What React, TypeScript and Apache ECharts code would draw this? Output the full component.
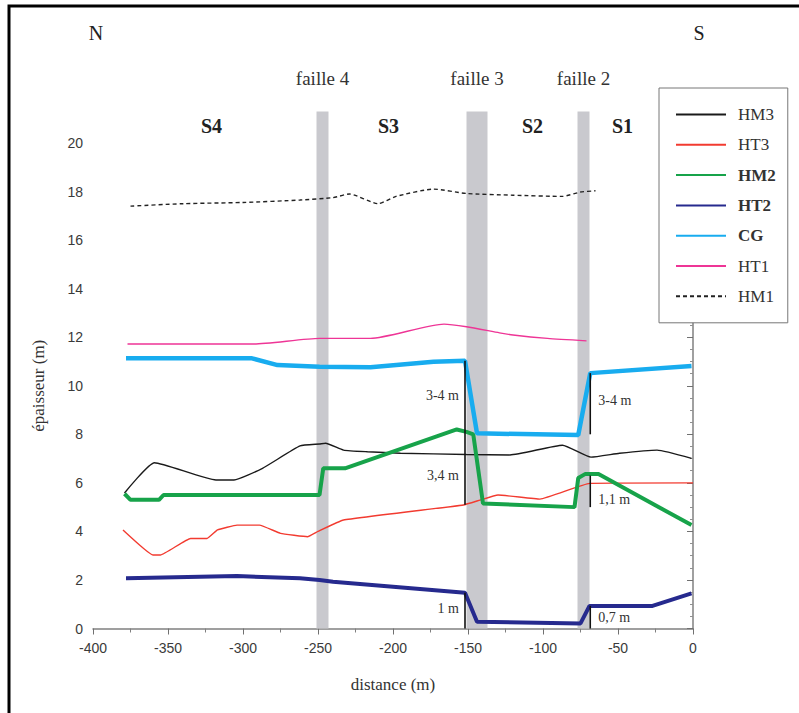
import React, { useEffect, useRef } from "react";
import * as echarts from "echarts";

// ---- data (distance in m, thickness in m) ----
const hm3X = [-379, -359, -318, -306, -287, -262, -249, -245, -233, -217, -195, -151, -122, -87, -68, -49, -24, -1];
const hm3Y = [5.58, 6.83, 6.12, 6.12, 6.6, 7.52, 7.6, 7.63, 7.35, 7.28, 7.22, 7.17, 7.15, 7.55, 7.06, 7.22, 7.35, 7.01];

const ht3X = [-380, -360, -355, -335, -324, -317, -304, -289, -275, -257, -250, -233, -153, -142, -130, -102, -69, 0];
const ht3Y = [4.06, 3.03, 3.03, 3.71, 3.71, 4.06, 4.26, 4.26, 3.92, 3.78, 4.0, 4.47, 5.09, 5.29, 5.5, 5.33, 5.98, 6.0];

const hm2X = [-379, -375, -356, -353, -249, -246.5, -232, -157.5, -151, -146.5, -140, -79, -76.5, -72, -63, -1];
const hm2Y = [5.55, 5.3, 5.3, 5.5, 5.5, 6.6, 6.6, 8.2, 8.1, 8.0, 5.15, 5.0, 6.2, 6.36, 6.36, 4.26];

const ht2X = [-378, -304, -262, -249, -240, -152, -144, -75, -69, -27, -1];
const ht2Y = [2.07, 2.16, 2.07, 2.0, 1.93, 1.47, 0.28, 0.21, 0.93, 0.93, 1.45];

const cgX = [-378, -294, -277, -249, -215, -173, -152, -144, -76.5, -68.5, -1];
const cgY = [11.13, 11.13, 10.85, 10.78, 10.76, 10.99, 11.03, 8.04, 7.97, 10.52, 10.81];

const ht1X = [-377, -293, -249, -215, -166, -151, -129, -120, -97, -71];
const ht1Y = [11.72, 11.72, 11.95, 11.95, 12.54, 12.43, 12.18, 12.09, 11.95, 11.85];

const hm1X = [-375, -340, -300, -262, -240, -229, -210, -198, -173, -151, -120, -87, -75, -65];
const hm1Y = [17.4, 17.5, 17.55, 17.65, 17.75, 17.9, 17.5, 17.8, 18.1, 17.92, 17.85, 17.8, 17.98, 18.03];

// fault zones [from, to]
const faultFrom = [-251, -151, -77];
const faultTo = [-243, -137, -69];
const faultTop = 21.3;
const faultNames = ["faille 4", "faille 3", "faille 2"];

// sector labels
const sectorNames = ["S4", "S3", "S2", "S1"];
const sectorX = [-321, -203, -107, -47];

// offset annotations: vertical bars [x, yTop, yBottom]
const barX = [-152, -152, -68.5, -68.5, -68.5];
const barTop = [11.03, 1.47, 10.52, 6.3, 0.93];
const barBottom = [5.1, 0, 8.0, 5.0, 0];

// annotation labels
const annoText = ["3-4 m", "3,4 m", "1 m", "3-4 m", "1,1 m", "0,7 m"];
const annoX = [-152, -152, -152, -68.5, -68.5, -68.5];
const annoY = [9.6, 6.32, 0.84, 9.4, 5.3, 0.47];
const annoSide = ["left", "left", "left", "right", "right", "right"];

const SERIF = "'Liberation Serif', 'Times New Roman', serif";
const SANS = "'Liberation Sans', Arial, sans-serif";

const zip = (xs: number[], ys: number[]) => xs.map((x, i) => [x, ys[i]]);

type Def = { name: string; xs: number[]; ys: number[]; color: string; width: number; dashed?: boolean; bold?: boolean; smooth?: number };
const defs: Def[] = [
  { name: "HM3", xs: hm3X, ys: hm3Y, color: "#1a1a1a", width: 1.4, smooth: 0.15 },
  { name: "HT3", xs: ht3X, ys: ht3Y, color: "#f23b30", width: 1.4, smooth: 0.1 },
  { name: "HM2", xs: hm2X, ys: hm2Y, color: "#17a34a", width: 4, bold: true },
  { name: "HT2", xs: ht2X, ys: ht2Y, color: "#262a8e", width: 4, bold: true },
  { name: "CG", xs: cgX, ys: cgY, color: "#18acef", width: 4.5, bold: true },
  { name: "HT1", xs: ht1X, ys: ht1Y, color: "#ee3596", width: 1.4, smooth: 0.2 },
  { name: "HM1", xs: hm1X, ys: hm1Y, color: "#222", width: 1.4, dashed: true, smooth: 0.2 },
];

export default function App() {
  const ref = useRef<HTMLDivElement>(null);
  useEffect(() => {
    document.body.style.margin = "0";
    const chart = echarts.init(ref.current!, null, { renderer: "svg" });

    const lineSeries = defs.map((d) => ({
      name: d.name,
      type: "line",
      data: zip(d.xs, d.ys),
      symbol: "none",
      smooth: d.smooth || false,
      z: 3,
      lineStyle: { color: d.color, width: d.width, type: d.dashed ? [4, 3] : "solid" },
      itemStyle: { color: d.color },
    }));

    const legendText = { fontFamily: SERIF, fontSize: 17, color: "#333", padding: [0, 0, 0, 7] };

    const option: any = {
      animation: false,
      backgroundColor: "#fff",
      grid: { left: 93, top: 143, width: 600, height: 485.5 },
      xAxis: {
        type: "value",
        min: -400,
        max: 0,
        interval: 50,
        axisLine: { lineStyle: { color: "#808080", width: 1.5 } },
        axisTick: { length: 6, lineStyle: { color: "#707070" } },
        minorTick: { show: true, splitNumber: 2, length: 4, lineStyle: { color: "#808080" } },
        axisLabel: { fontFamily: SANS, fontSize: 14, color: "#3a3a3a", margin: 12 },
        splitLine: { show: false },
        name: "distance (m)",
        nameLocation: "middle",
        nameGap: 47,
        nameTextStyle: { fontFamily: SERIF, fontSize: 17, color: "#333" },
      },
      yAxis: {
        type: "value",
        min: 0,
        max: 20,
        interval: 2,
        axisLine: { show: true, lineStyle: { color: "#808080", width: 1.5 } },
        axisTick: { show: true, length: 6, lineStyle: { color: "#707070" } },
        minorTick: { show: true, splitNumber: 4, length: 3, lineStyle: { color: "#909090" } },
        axisLabel: { fontFamily: SANS, fontSize: 14, color: "#3a3a3a", margin: 10 },
        splitLine: { show: false },
        name: "épaisseur (m)",
        nameLocation: "middle",
        nameGap: 46,
        nameTextStyle: { fontFamily: SERIF, fontSize: 17, color: "#333" },
      },
      legend: {
        orient: "vertical",
        left: 659,
        top: 88,
        itemWidth: 50,
        itemHeight: 14,
        itemGap: 13.3,
        padding: [18, 12, 18, 16],
        borderColor: "#777",
        borderWidth: 1,
        backgroundColor: "#fff",
        itemStyle: { opacity: 0 },
        textStyle: legendText,
        data: defs.map((d) => ({
          name: d.name,
          textStyle: { ...legendText, fontWeight: d.bold ? "bold" : "normal" },
        })),
      },
      series: [
        {
          type: "custom",
          name: "faults",
          clip: false,
          z: 1,
          silent: true,
          data: faultFrom.map((f, i) => [f, faultTo[i], 0]),
          encode: { x: [0, 1], y: 2 },
          renderItem: (params: any, api: any) => {
            const p0 = api.coord([api.value(0), faultTop]);
            const p1 = api.coord([api.value(1), 0]);
            return {
              type: "rect",
              shape: { x: p0[0], y: p0[1], width: p1[0] - p0[0], height: p1[1] - p0[1] },
              style: { fill: "#c9c9ce" },
            };
          },
        },
        {
          type: "custom",
          name: "faultLabels",
          clip: false,
          z: 4,
          silent: true,
          data: faultFrom.map((f, i) => [(f + faultTo[i]) / 2, 0]),
          encode: { x: 0, y: 1 },
          renderItem: (params: any, api: any) => {
            const p = api.coord([api.value(0), faultTop]);
            return {
              type: "text",
              x: p[0],
              y: p[1] - 33,
              style: { text: faultNames[params.dataIndex], font: `19px ${SERIF}`, fill: "#333", align: "center", verticalAlign: "middle" },
            };
          },
        },
        {
          type: "custom",
          name: "sectors",
          clip: false,
          z: 4,
          silent: true,
          data: sectorX.map((x) => [x, 0]),
          encode: { x: 0, y: 1 },
          renderItem: (params: any, api: any) => {
            const p = api.coord([api.value(0), 20]);
            return {
              type: "text",
              x: p[0],
              y: p[1] - 17,
              style: { text: sectorNames[params.dataIndex], font: `bold 20px ${SERIF}`, fill: "#222", align: "center", verticalAlign: "middle" },
            };
          },
        },
        ...lineSeries,
        {
          type: "custom",
          name: "bars",
          clip: false,
          z: 5,
          silent: true,
          data: barX.map((x, i) => [x, barTop[i], barBottom[i]]),
          encode: { x: 0, y: [1, 2] },
          renderItem: (params: any, api: any) => {
            const a = api.coord([api.value(0), api.value(1)]);
            const b = api.coord([api.value(0), api.value(2)]);
            return {
              type: "line",
              shape: { x1: a[0], y1: a[1], x2: b[0], y2: b[1] },
              style: { stroke: "#111", lineWidth: 1.6 },
            };
          },
        },
        {
          type: "custom",
          name: "annotations",
          clip: false,
          z: 5,
          silent: true,
          data: annoX.map((x, i) => [x, annoY[i]]),
          encode: { x: 0, y: 1 },
          renderItem: (params: any, api: any) => {
            const p = api.coord([api.value(0), api.value(1)]);
            const left = annoSide[params.dataIndex] === "left";
            return {
              type: "text",
              x: p[0] + (left ? -6 : 8),
              y: p[1],
              style: { text: annoText[params.dataIndex], font: `14px ${SERIF}`, fill: "#333", align: left ? "right" : "left", verticalAlign: "middle" },
            };
          },
        },
      ],
      graphic: [
        { type: "rect", shape: { x: 9, y: 6, width: 820, height: 730 }, style: { fill: "none", stroke: "#000", lineWidth: 3 }, silent: true },
        { type: "text", x: 96, y: 33, style: { text: "N", font: `20px ${SERIF}`, fill: "#222", align: "center", verticalAlign: "middle" } },
        { type: "text", x: 699, y: 33, style: { text: "S", font: `20px ${SERIF}`, fill: "#222", align: "center", verticalAlign: "middle" } },
      ],
    };

    chart.setOption(option);
    return () => chart.dispose();
  }, []);
  return <div ref={ref} style={{ width: 799, height: 713, background: "#fff" }} />;
}
